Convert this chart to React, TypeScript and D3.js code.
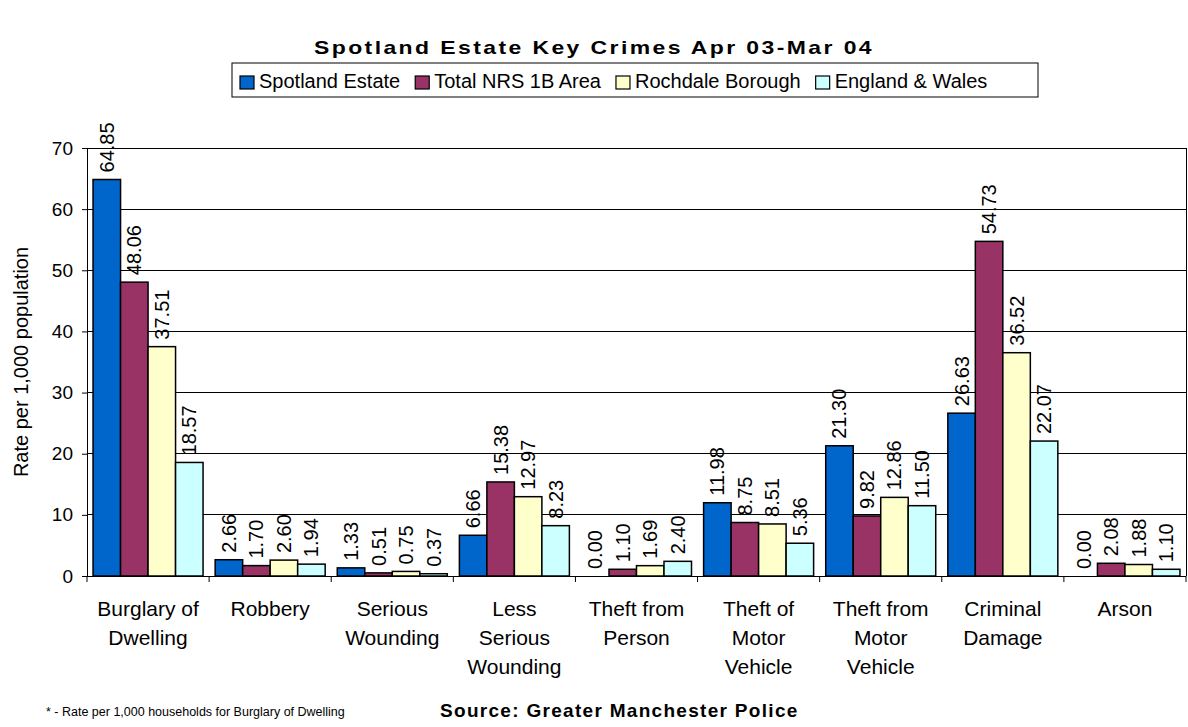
import React, { useEffect, useRef } from "react";
import * as d3 from "d3";

const categories: string[][] = [
  ["Burglary of", "Dwelling"],
  ["Robbery"],
  ["Serious", "Wounding"],
  ["Less", "Serious", "Wounding"],
  ["Theft from", "Person"],
  ["Theft of", "Motor", "Vehicle"],
  ["Theft from", "Motor", "Vehicle"],
  ["Criminal", "Damage"],
  ["Arson"],
];

const seriesNames = ["Spotland Estate", "Total NRS 1B Area", "Rochdale Borough", "England & Wales"];
const seriesColors = ["#0066CC", "#993366", "#FFFFCC", "#CCFFFF"];

const spotland = [64.85, 2.66, 1.33, 6.66, 0.0, 11.98, 21.3, 26.63, 0.0];
const totalNRS = [48.06, 1.7, 0.51, 15.38, 1.1, 8.75, 9.82, 54.73, 2.08];
const rochdale = [37.51, 2.6, 0.75, 12.97, 1.69, 8.51, 12.86, 36.52, 1.88];
const englandWales = [18.57, 1.94, 0.37, 8.23, 2.4, 5.36, 11.5, 22.07, 1.1];

const yTicks = [0, 10, 20, 30, 40, 50, 60, 70];

const title = "Spotland Estate Key Crimes Apr 03-Mar 04";
const yTitle = "Rate per 1,000 population";
const sourceText = "Source: Greater Manchester Police";
const footnote = "* - Rate per 1,000 households for Burglary of Dwelling";

const W = 1188;
const H = 727;
const FONT = "'Liberation Sans', Arial, sans-serif";

export default function App() {
  const ref = useRef<SVGSVGElement | null>(null);

  useEffect(() => {
    document.body.style.margin = "0";
    const svg = d3.select(ref.current);
    svg.selectAll("*").remove();

    const seriesValues = [spotland, totalNRS, rochdale, englandWales];
    const left = 87, right = 1186, top = 148, bottom = 576;

    const x = d3.scaleBand<number>().domain(d3.range(categories.length)).range([left, right]).padding(0);
    const xi = d3.scaleBand<number>().domain(d3.range(seriesNames.length)).range([0, x.bandwidth()])
      .paddingInner(0).paddingOuter(0.22);
    const y = d3.scaleLinear().domain([0, 70]).range([bottom, top]);

    svg.append("rect").attr("width", W).attr("height", H).attr("fill", "#fff");

    // gridlines
    svg.append("g").selectAll("line").data(yTicks.filter(t => t > 0)).join("line")
      .attr("x1", left).attr("x2", right).attr("y1", d => y(d)).attr("y2", d => y(d))
      .attr("stroke", "#000").attr("stroke-width", 1).attr("shape-rendering", "crispEdges");
    // right border
    svg.append("line").attr("x1", right).attr("x2", right).attr("y1", top).attr("y2", bottom)
      .attr("stroke", "#000").attr("shape-rendering", "crispEdges");

    // bars
    const gBars = svg.append("g");
    seriesValues.forEach((vals, s) => {
      gBars.append("g").selectAll("rect").data(vals).join("rect")
        .attr("x", (_, i) => (x(i) as number) + (xi(s) as number))
        .attr("y", d => y(d))
        .attr("width", xi.bandwidth())
        .attr("height", d => y(0) - y(d))
        .attr("fill", seriesColors[s])
        .attr("stroke", "#000").attr("stroke-width", 1.5);
    });

    // value labels
    const gLab = svg.append("g").attr("font-family", FONT).attr("font-size", 20).attr("fill", "#000");
    seriesValues.forEach((vals, s) => {
      gLab.append("g").selectAll("text").data(vals).join("text")
        .attr("transform", (d, i) => {
          const cx = (x(i) as number) + (xi(s) as number) + xi.bandwidth() / 2;
          return `translate(${cx},${y(d) - 7}) rotate(-90)`;
        })
        .attr("dominant-baseline", "central")
        .attr("text-anchor", "start")
        .text(d => d3.format(".2f")(d));
    });

    // y axis
    const yAxis = d3.axisLeft(y).tickValues(yTicks).tickSize(5).tickPadding(9);
    const gy = svg.append("g").attr("transform", `translate(${left},0)`).call(yAxis);
    gy.selectAll("text").attr("font-family", FONT).attr("font-size", 19).attr("fill", "#000");
    gy.selectAll("line,path").attr("stroke", "#000");

    // x axis
    const gx = svg.append("g").attr("transform", `translate(0,${bottom})`);
    gx.append("line").attr("x1", left).attr("x2", right).attr("stroke", "#000").attr("shape-rendering", "crispEdges");
    gx.selectAll("line.tick").data(d3.range(categories.length + 1)).join("line")
      .attr("class", "tick")
      .attr("x1", i => left + i * x.step()).attr("x2", i => left + i * x.step())
      .attr("y1", 0).attr("y2", 6).attr("stroke", "#000");

    const gxl = svg.append("g").attr("font-family", FONT).attr("font-size", 21).attr("fill", "#000")
      .attr("text-anchor", "middle");
    categories.forEach((lines, i) => {
      const t = gxl.append("text").attr("x", (x(i) as number) + x.bandwidth() / 2).attr("y", 616);
      lines.forEach((ln, k) => {
        t.append("tspan").attr("x", (x(i) as number) + x.bandwidth() / 2).attr("y", 616 + k * 29).text(ln);
      });
    });

    // y title
    svg.append("text").attr("transform", `translate(28,${(top + bottom) / 2}) rotate(-90)`)
      .attr("text-anchor", "middle").attr("font-family", FONT).attr("font-size", 20)
      .attr("fill", "#000").text(yTitle);

    // title
    svg.append("text").attr("x", W / 2).attr("y", 54).attr("text-anchor", "middle")
      .attr("font-family", FONT).attr("font-size", 19).attr("font-weight", "bold")
      .attr("letter-spacing", 2).attr("textLength", 560).attr("lengthAdjust", "spacingAndGlyphs")
      .attr("fill", "#000").text(title);

    // legend
    const lg = svg.append("g");
    const box = lg.append("rect").attr("x", 232).attr("y", 63).attr("width", 806).attr("height", 34)
      .attr("fill", "#fff").attr("stroke", "#000").attr("stroke-width", 1);
    let cx = 240;
    seriesNames.forEach((name, s) => {
      lg.append("rect").attr("x", cx).attr("y", 76).attr("width", 14).attr("height", 13)
        .attr("fill", seriesColors[s]).attr("stroke", "#000").attr("stroke-width", 1.2);
      const t = lg.append("text").attr("x", cx + 19).attr("y", 88).attr("font-family", FONT)
        .attr("font-size", 20).attr("fill", "#000").text(name);
      const w = (t.node() as SVGTextElement).getComputedTextLength();
      cx = cx + 19 + w + 15;
    });
    box.attr("width", Math.max(806, cx - 232));

    // footer
    svg.append("text").attr("x", 46).attr("y", 716).attr("font-family", FONT).attr("font-size", 12.5)
      .attr("fill", "#000").text(footnote);
    svg.append("text").attr("x", 440).attr("y", 717).attr("font-family", FONT).attr("font-size", 19)
      .attr("font-weight", "bold").attr("letter-spacing", 1.3).attr("fill", "#000").text(sourceText);
  }, []);

  return <svg ref={ref} width={W} height={H} style={{ display: "block" }} />;
}
